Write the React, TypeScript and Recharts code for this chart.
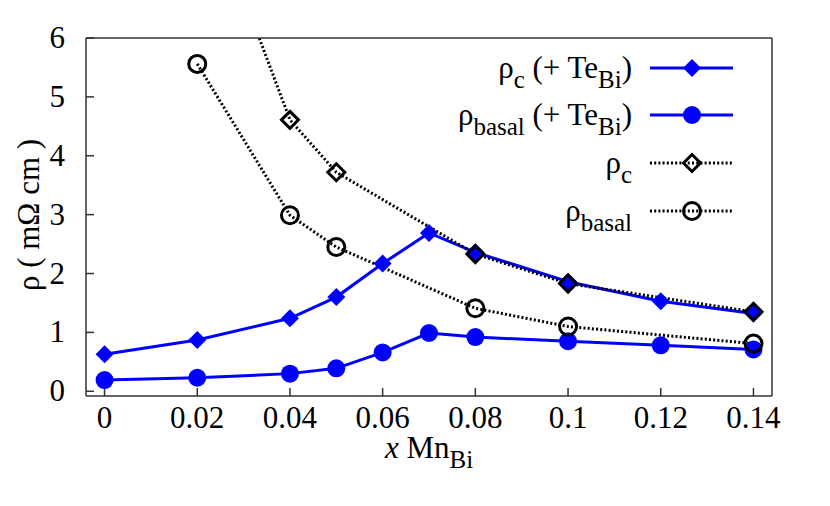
import React from "react";
import { Legend, Line, LineChart, XAxis, YAxis } from "recharts";

if (typeof document !== "undefined") document.body.style.margin = "0";

const FONT = "Liberation Serif";
const TXT = { fontFamily: FONT };
const BLUE = "#0000ff";
const FRAME = "#333333";
const FS = 31;
const SUB_FS = 25;

// force the serif face on every chart text
const FONT_CSS = `#root .recharts-wrapper text, #root .recharts-wrapper tspan { font-family: "Liberation Serif" !important; }`;

const X_TICKS = [0, 0.02, 0.04, 0.06, 0.08, 0.1, 0.12, 0.14];
const Y_TICKS = [0, 1, 2, 3, 4, 5, 6];

// samples with Te on Bi sites
const TE_X = [0, 0.02, 0.04, 0.05, 0.06, 0.07, 0.08, 0.1, 0.12, 0.14];
const RHO_C_TE = [0.63, 0.87, 1.24, 1.6, 2.17, 2.69, 2.36, 1.86, 1.53, 1.32];
const RHO_BASAL_TE = [0.19, 0.23, 0.3, 0.39, 0.66, 0.99, 0.92, 0.85, 0.78, 0.71];

// samples without Te
const PURE_X = [0.02, 0.04, 0.05, 0.08, 0.1, 0.14];
const RHO_C = [8.8, 4.61, 3.72, 2.33, 1.83, 1.35];
const RHO_BASAL = [5.56, 2.99, 2.45, 1.41, 1.1, 0.81];

const toPoints = (xs: number[], ys: number[]) => xs.map((x, i) => ({ x, y: ys[i] }));

const rhoCTe = toPoints(TE_X, RHO_C_TE);
const rhoBasalTe = toPoints(TE_X, RHO_BASAL_TE);
const rhoC = toPoints(PURE_X, RHO_C);
const rhoBasal = toPoints(PURE_X, RHO_BASAL);

type Marker = "diamondFill" | "circleFill" | "diamondOpen" | "circleOpen";

function drawMarker(kind: Marker, cx: number, cy: number, key?: string) {
  if (kind === "diamondFill") {
    const r = 9;
    return <path key={key} d={`M${cx},${cy - r}L${cx + r},${cy}L${cx},${cy + r}L${cx - r},${cy}Z`} fill={BLUE} />;
  }
  if (kind === "circleFill") return <circle key={key} cx={cx} cy={cy} r={9} fill={BLUE} />;
  if (kind === "diamondOpen") {
    const r = 8.5;
    return (
      <path
        key={key}
        d={`M${cx},${cy - r}L${cx + r},${cy}L${cx},${cy + r}L${cx - r},${cy}Z`}
        fill="none"
        stroke="#000"
        strokeWidth={3}
      />
    );
  }
  return <circle key={key} cx={cx} cy={cy} r={8.5} fill="none" stroke="#000" strokeWidth={3} />;
}

const dotOf = (kind: Marker) => (p: any) => drawMarker(kind, p.cx, p.cy, `${kind}-${p.index}`);

const XTick = (p: any) => (
  <text x={p.x} y={p.y + 32} textAnchor="middle" fontSize={FS} fill="#000" fontFamily={FONT} style={TXT}>
    {p.payload.value}
  </text>
);

const YTick = (p: any) => (
  <text x={p.x} y={p.y + 10} textAnchor="end" fontSize={FS} fill="#000" fontFamily={FONT} style={TXT}>
    {p.payload.value}
  </text>
);

const Sub = ({ children }: { children: string }) => (
  <tspan fontSize={SUB_FS} dy={10}>
    {children}
  </tspan>
);

const LEGEND_ROWS = [
  { y: 68, kind: "diamondFill" as Marker, dotted: false, sub: "c", tail: true },
  { y: 115, kind: "circleFill" as Marker, dotted: false, sub: "basal", tail: true },
  { y: 163, kind: "diamondOpen" as Marker, dotted: true, sub: "c", tail: false },
  { y: 211, kind: "circleOpen" as Marker, dotted: true, sub: "basal", tail: false },
];

function KeyBox() {
  return (
    <svg width={830} height={506} style={{ position: "absolute", left: 0, top: 0 }}>
      {LEGEND_ROWS.map((r) => (
        <g key={r.y}>
          <text x={632} y={r.y + 10} textAnchor="end" fontSize={FS} fill="#000" fontFamily={FONT} style={TXT}>
            ρ
            <Sub>{r.sub}</Sub>
            {r.tail && (
              <>
                <tspan dy={-10}> (+ Te</tspan>
                <Sub>Bi</Sub>
                <tspan dy={-10}>)</tspan>
              </>
            )}
          </text>
          <line
            x1={650}
            x2={733}
            y1={r.y}
            y2={r.y}
            stroke={r.dotted ? "#000" : BLUE}
            strokeWidth={3}
            strokeDasharray={r.dotted ? "2 2.2" : undefined}
          />
          {drawMarker(r.kind, 692, r.y)}
        </g>
      ))}
    </svg>
  );
}

export default function App() {
  return (
    <>
      <style>{FONT_CSS}</style>
      <LineChart width={830} height={506} margin={{ top: 37, right: 57, bottom: 70, left: 16 }}>
        <XAxis
          xAxisId="b"
          type="number"
          dataKey="x"
          domain={[-0.004, 0.144]}
          allowDataOverflow
          ticks={X_TICKS}
          height={40}
          stroke={FRAME}
          strokeWidth={1.5}
          tickSize={-8}
          tickMargin={8}
          tick={XTick}
          label={(props: any) => {
            const vb = props.viewBox;
            return (
              <text
                x={vb.x + vb.width / 2}
                y={458}
                textAnchor="middle"
                fontSize={FS}
                fill="#000"
                fontFamily={FONT}
                style={TXT}
              >
                <tspan fontStyle="italic">x</tspan> Mn
                <tspan fontSize={SUB_FS} dy={10}>
                  Bi
                </tspan>
              </text>
            );
          }}
        />
        <XAxis
          xAxisId="t"
          orientation="top"
          type="number"
          dataKey="x"
          domain={[-0.004, 0.144]}
          allowDataOverflow
          ticks={X_TICKS}
          height={1}
          stroke={FRAME}
          strokeWidth={1.5}
          tickSize={-8}
          tick={false}
        />
        <YAxis
          yAxisId="l"
          type="number"
          domain={[-0.08, 6]}
          allowDataOverflow
          ticks={Y_TICKS}
          width={70}
          stroke={FRAME}
          strokeWidth={1.5}
          tickSize={-8}
          tickMargin={29}
          tick={YTick}
          label={(props: any) => {
            const vb = props.viewBox;
            const cx = vb.x + 12;
            const cy = vb.y + vb.height / 2 - 2;
            return (
              <text
                x={cx}
                y={cy}
                transform={`rotate(-90 ${cx} ${cy})`}
                textAnchor="middle"
                dominantBaseline="central"
                fontSize={FS}
                fill="#000"
                fontFamily={FONT}
                style={TXT}
              >
                ρ ( mΩ cm )
              </text>
            );
          }}
        />
        <YAxis
          yAxisId="r"
          orientation="right"
          type="number"
          domain={[-0.08, 6]}
          allowDataOverflow
          ticks={Y_TICKS}
          width={1}
          stroke={FRAME}
          strokeWidth={1.5}
          tickSize={-8}
          tick={false}
        />
        <Legend
          layout="horizontal"
          verticalAlign="middle"
          align="center"
          wrapperStyle={{ left: 0, top: 0, width: 830, height: 506, pointerEvents: "none" }}
          content={() => <KeyBox />}
        />
        {/* invisible series so the mirrored top/right axes get drawn */}
        <Line
          data={rhoCTe}
          xAxisId="t"
          yAxisId="r"
          dataKey="y"
          stroke="none"
          dot={false}
          legendType="none"
          isAnimationActive={false}
        />
        <Line
          data={rhoCTe}
          xAxisId="b"
          yAxisId="l"
          dataKey="y"
          stroke={BLUE}
          strokeWidth={3}
          dot={dotOf("diamondFill")}
          isAnimationActive={false}
        />
        <Line
          data={rhoBasalTe}
          xAxisId="b"
          yAxisId="l"
          dataKey="y"
          stroke={BLUE}
          strokeWidth={3}
          dot={dotOf("circleFill")}
          isAnimationActive={false}
        />
        <Line
          data={rhoC}
          xAxisId="b"
          yAxisId="l"
          dataKey="y"
          stroke="#000"
          strokeWidth={3}
          strokeDasharray="2 2.2"
          dot={dotOf("diamondOpen")}
          isAnimationActive={false}
        />
        <Line
          data={rhoBasal}
          xAxisId="b"
          yAxisId="l"
          dataKey="y"
          stroke="#000"
          strokeWidth={3}
          strokeDasharray="2 2.2"
          dot={dotOf("circleOpen")}
          isAnimationActive={false}
        />
      </LineChart>
    </>
  );
}
